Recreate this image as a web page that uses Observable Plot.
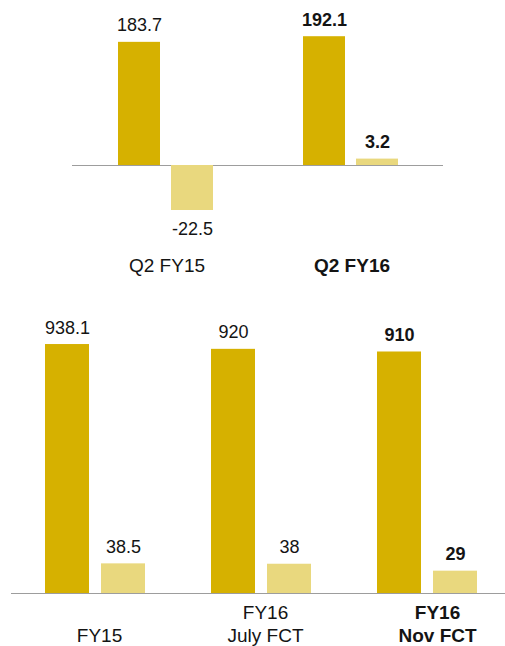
<!DOCTYPE html>
<html><head><meta charset="utf-8">
<script src="https://cdn.jsdelivr.net/npm/d3@7"></script>
<script src="https://cdn.jsdelivr.net/npm/@observablehq/plot@0.6"></script>
<style>
html,body{margin:0;padding:0;background:#fff;}
.panel{position:relative;width:505px;overflow:hidden;}
.panel svg{position:absolute;left:0;top:0;}
</style></head><body>
<div id="top" class="panel" style="height:290px"></div>
<div id="bottom" class="panel" style="height:356px"></div>
<script>
// ---- data ----
const topCategories = ["Q2 FY15", "Q2 FY16"];
const topPrimary = [183.7, 192.1];
const topSecondary = [-22.5, 3.2];
const topHighlight = "Q2 FY16";

const bottomCategories = ["FY15", "FY16\nJuly FCT", "FY16\nNov FCT"];
const bottomPrimary = [938.1, 920, 910];
const bottomSecondary = [38.5, 38, 29];
const bottomHighlight = "FY16\nNov FCT";

// ---- style ----
const DARK = "#d6b100";
const LIGHT = "#e9d87e";
const INK = "#141414";
const FONT = "'Liberation Sans', Arial, sans-serif";

function panel(el, cfg) {
  const primary = cfg.cats.map((c, i) => ({cat: c, value: cfg.primary[i]}));
  const secondary = cfg.cats.map((c, i) => ({cat: c, value: cfg.secondary[i]}));
  const fmt = v => String(v);
  const common = {
    width: 505, height: cfg.height,
    marginTop: 0, marginLeft: cfg.marginLeft, marginRight: cfg.marginRight, marginBottom: cfg.marginBottom,
    style: {background: "transparent", overflow: "visible", fontFamily: FONT, color: INK},
    x: {type: "band", domain: cfg.cats, paddingInner: cfg.paddingInner, paddingOuter: cfg.paddingOuter, align: cfg.align, axis: null}
  };
  const hl = d => d.cat === cfg.highlight;
  const dark = Plot.plot({
    ...common,
    y: {domain: cfg.darkDomain, axis: null},
    marks: [
      Plot.ruleY([0], {stroke: "#9d9d9d", strokeWidth: 1}),
      Plot.barY(primary, {x: "cat", y: "value", fill: DARK, insetRight: cfg.inset}),
      Plot.text(primary.filter(d => !hl(d)), {x: "cat", y: "value", text: d => fmt(d.value), dx: -cfg.dx, dy: -11, lineAnchor: "bottom", fontSize: 18, fill: INK}),
      Plot.text(primary.filter(hl), {x: "cat", y: "value", text: d => fmt(d.value), dx: -cfg.dx, dy: -11, lineAnchor: "bottom", fontSize: 18, fontWeight: "bold", fill: INK}),
      Plot.text(cfg.cats.filter(c => c !== cfg.highlight), {x: d => d, text: d => d, frameAnchor: "bottom", lineAnchor: "bottom", dx: cfg.catDx, dy: cfg.catDy, fontSize: 19, lineHeight: 1.2, fill: INK}),
      Plot.text(cfg.cats.filter(c => c === cfg.highlight), {x: d => d, text: d => d, frameAnchor: "bottom", lineAnchor: "bottom", dx: cfg.hlDx, dy: cfg.catDy, fontSize: 19, lineHeight: 1.2, fontWeight: "bold", fill: INK})
    ]
  });
  const light = Plot.plot({
    ...common,
    y: {domain: cfg.lightDomain, axis: null},
    marks: [
      Plot.barY(secondary, {x: "cat", y: "value", fill: LIGHT, insetLeft: cfg.inset}),
      Plot.text(secondary.filter(d => d.value >= 0 && !hl(d)), {x: "cat", y: "value", text: d => fmt(d.value), dx: cfg.dx, dy: -11, lineAnchor: "bottom", fontSize: 18, fill: INK}),
      Plot.text(secondary.filter(d => d.value >= 0 && hl(d)), {x: "cat", y: "value", text: d => fmt(d.value), dx: cfg.dx, dy: -11, lineAnchor: "bottom", fontSize: 18, fontWeight: "bold", fill: INK}),
      Plot.text(secondary.filter(d => d.value < 0), {x: "cat", y: "value", text: d => fmt(d.value), dx: cfg.dx, dy: 12, lineAnchor: "top", fontSize: 18, fill: INK})
    ]
  });
  el.append(dark, light);
}

panel(document.getElementById("top"), {
  cats: topCategories, primary: topPrimary, secondary: topSecondary, highlight: topHighlight,
  height: 290, marginLeft: 72, marginRight: 62, marginBottom: 34,
  paddingInner: 0.4879, paddingOuter: 0.244, align: 0.5,
  darkDomain: [-135.7, 246.1], lightDomain: [-45.5, 82.5],
  inset: 53, dx: 26.5, catDy: 15, catDx: 1, hlDx: 1
});

panel(document.getElementById("bottom"), {
  cats: bottomCategories, primary: bottomPrimary, secondary: bottomSecondary, highlight: bottomHighlight,
  height: 356, marginLeft: 11, marginRight: 0, marginBottom: 53,
  paddingInner: 0.3994, paddingOuter: 0.1832, align: 0.541,
  darkDomain: [0, 1141.7], lightDomain: [0, 393.5],
  inset: 56, dx: 28, catDy: 48, catDx: 4, hlDx: 10
});
</script>
</body></html>
